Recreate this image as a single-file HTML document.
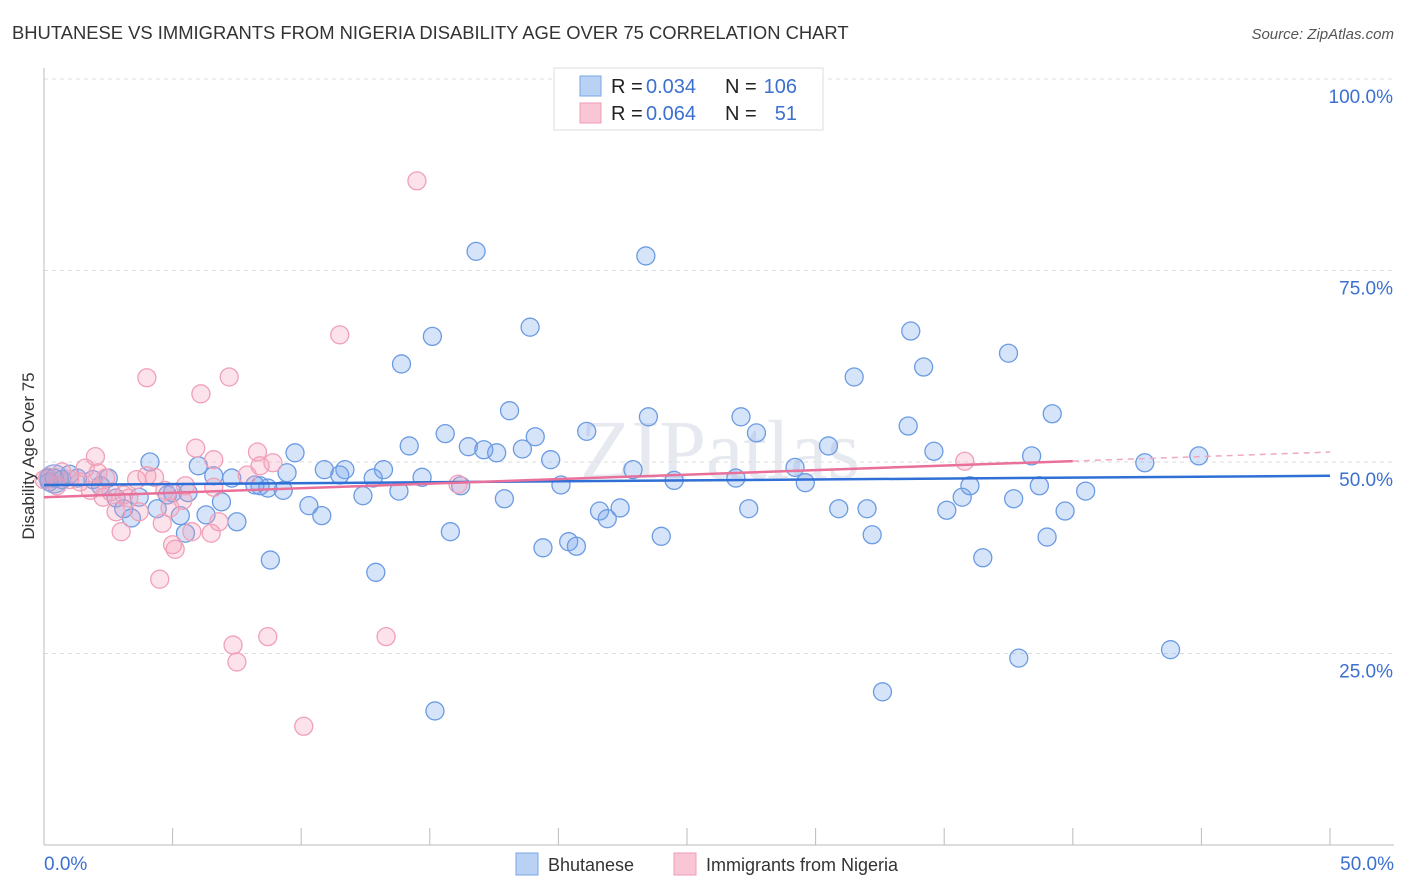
<!DOCTYPE html>
<html><head><meta charset="utf-8"><style>
body{margin:0;background:#fff;font-family:"Liberation Sans",sans-serif;}
svg{display:block}
</style></head><body>
<svg id="chart" width="1406" height="892">
<text x="12" y="39" font-size="18.4" fill="#333">BHUTANESE VS IMMIGRANTS FROM NIGERIA DISABILITY AGE OVER 75 CORRELATION CHART</text>
<text x="1394" y="39" font-size="15" fill="#555" font-style="italic" text-anchor="end">Source: ZipAtlas.com</text>
<text x="720" y="478" font-size="84" fill="#e6e9ef" text-anchor="middle" font-family="Liberation Serif,serif">ZIPatlas</text>
<g id="grid"></g>
<g id="axes"></g>
<g id="pts"></g>
<g id="trend"></g>
<text transform="translate(34,456) rotate(-90)" font-size="17" fill="#333" text-anchor="middle">Disability Age Over 75</text>
<g>
<rect x="554" y="68" width="269" height="62" fill="#fff" stroke="#ddd"/>
<rect x="580" y="76" width="21" height="20" fill="#b9d2f4" stroke="#7aa5e6"/>
<rect x="580" y="103" width="21" height="20" fill="#f9c6d5" stroke="#f09ab5"/>
<text x="611" y="93" font-size="20" fill="#222">R =</text>
<text x="646" y="93" font-size="20" fill="#3b70d0">0.034</text>
<text x="725" y="93" font-size="20" fill="#222">N =</text>
<text x="797" y="93" font-size="20" fill="#3b70d0" text-anchor="end">106</text>
<text x="611" y="120" font-size="20" fill="#222">R =</text>
<text x="646" y="120" font-size="20" fill="#3b70d0">0.064</text>
<text x="725" y="120" font-size="20" fill="#222">N =</text>
<text x="797" y="120" font-size="20" fill="#3b70d0" text-anchor="end">51</text>
</g>
<g>
<rect x="516" y="853" width="22" height="22" fill="#b9d2f4" stroke="#7aa5e6"/>
<text x="548" y="871" font-size="18" fill="#333">Bhutanese</text>
<rect x="674" y="853" width="22" height="22" fill="#f9c6d5" stroke="#f09ab5"/>
<text x="706" y="871" font-size="18" fill="#333">Immigrants from Nigeria</text>
</g>
</svg>
<script>
const blueX=[4.12,6.0,6.6,7.3,8.2,9.45,9.76,10.9,11.7,13.2,12.4,13.8,14.7,14.2,15.6,16.5,17.1,17.6,18.1,18.6,19.1,19.7,18.9,16.8,15.1,13.9,23.4,23.5,21.1,22.9,24.5,20.1,17.9,16.2,15.8,12.9,15.2,19.4,20.4,20.7,21.6,21.9,22.4,24.0,27.1,27.7,26.9,27.4,29.2,29.6,30.5,30.9,31.5,32.0,32.2,32.6,33.6,33.7,34.2,34.6,35.1,35.7,36.0,36.5,37.5,37.7,37.9,38.4,38.7,39.0,39.2,39.7,40.5,42.8,43.8,44.9,8.8,7.5,6.3,6.9,5.3,4.8,4.4,3.7,2.8,3.4,2.5,1.9,1.3,0.7,0.2,0.4,1.0,2.2,3.1,5.0,5.5,9.3,10.3,10.8,8.4,11.5,12.8,8.7,0.15,5.6];
const blueY=[50.0,49.5,48.2,47.9,47.0,48.6,51.2,49.0,49.0,49.0,45.6,46.2,48.0,52.1,53.7,52.0,51.6,51.2,56.7,51.7,53.3,50.3,67.6,77.5,66.4,62.8,76.9,55.9,54.0,49.0,47.6,47.0,45.2,46.9,40.9,35.6,17.5,38.8,39.6,39.0,43.6,42.6,44.0,40.3,55.9,53.8,47.9,43.9,49.3,47.3,52.1,43.9,61.1,43.9,40.5,20.0,54.7,67.1,62.4,51.4,43.7,45.4,46.9,37.5,64.2,45.2,24.4,50.8,46.9,40.2,56.3,43.6,46.2,49.9,25.5,50.8,37.2,42.2,43.1,44.8,43.0,45.7,43.9,45.4,45.3,42.7,47.9,47.7,47.9,47.7,47.4,47.9,48.4,46.9,43.9,46.0,40.7,46.3,44.3,43.0,46.9,48.3,47.9,46.6,47.9,46.0];
const pinkX=[14.5,11.5,4.0,7.2,6.1,5.9,6.6,8.3,8.9,8.4,7.9,6.6,5.5,4.3,3.6,4.0,2.0,1.6,2.1,2.4,3.3,2.3,2.8,3.0,3.7,4.6,4.9,5.4,5.0,5.1,5.75,6.5,6.8,4.5,7.35,7.5,8.7,13.3,10.1,16.1,35.8,1.0,0.5,0.7,0.15,1.4,1.8,2.6,0.0,4.7,3.1];
const pinkY=[86.7,66.6,61.0,61.1,58.9,51.8,50.3,51.3,49.9,49.5,48.3,46.7,46.9,48.0,47.7,48.2,50.7,49.2,48.6,47.9,45.3,45.4,43.5,40.9,43.5,42.0,44.0,45.0,39.2,38.6,40.9,40.7,42.2,34.7,26.1,23.9,27.2,27.2,15.5,47.1,50.1,47.7,46.9,48.7,48.0,47.4,46.3,46.1,47.7,46.3,45.7];
const yTicks=[25,50,75,100];
const xTickVals=[0,5,10,15,20,25,30,35,40,45,50];
const blueTrend=[47.0,48.2];
const pinkTrend=[45.4,51.3];
const pinkSolidEnd=40;
const NS="http://www.w3.org/2000/svg";
const sx=v=>44+v*25.72, sy=v=>845-v*7.66;
function mk(tag,attrs,parent){const e=document.createElementNS(NS,tag);for(const k in attrs)e.setAttribute(k,attrs[k]);parent.appendChild(e);return e;}
const grid=document.getElementById('grid'),axes=document.getElementById('axes'),pts=document.getElementById('pts'),tr=document.getElementById('trend');
yTicks.forEach(t=>{
 const l=mk('line',{x1:44,x2:1394,y1:sy(t),y2:sy(t),stroke:'#ddd','stroke-dasharray':'4,4'},grid);
 
 
 const tx=mk('text',{x:1393,y:sy(t)+24,'font-size':19,fill:'#3b70d0','text-anchor':'end'},grid);
 tx.textContent=t.toFixed(1)+'%';
 
 
});
const ya=mk('line',{x1:44,x2:44,y1:68,y2:845,stroke:'#bbb'},axes);


const xa=mk('line',{x1:44,x2:1394,y1:845,y2:845,stroke:'#bbb'},axes);


xTickVals.forEach(t=>{
 if(t===0)return;
 const l=mk('line',{x1:sx(t),x2:sx(t),y1:828,y2:845,stroke:'#bbb'},axes);
 
 
});
[[0,'start'],[50,'end']].forEach(([t,a])=>{
 const tx=mk('text',{x:t===0?44:1394,y:870,'font-size':19,fill:'#3b70d0','text-anchor':a},axes);
 tx.textContent=t.toFixed(1)+'%';
 
 
});
blueX.forEach((x,i)=>{
 const c=mk('circle',{cx:sx(x),cy:sy(blueY[i]),r:9,fill:'rgba(120,165,235,0.3)',stroke:'#6b9be3','stroke-width':1.3},pts);
 
 
});
pinkX.forEach((x,i)=>{
 const c=mk('circle',{cx:sx(x),cy:sy(pinkY[i]),r:9,fill:'rgba(245,160,185,0.3)',stroke:'#f0a0b8','stroke-width':1.3},pts);
 
 
});
const big=mk('circle',{cx:sx(0.4),cy:sy(47.8),r:14,fill:'rgba(150,150,210,0.3)',stroke:'#8fa5e0','stroke-width':1.3},pts);


const bl=mk('line',{x1:sx(0),x2:sx(50),y1:sy(blueTrend[0]),y2:sy(blueTrend[1]),stroke:'#2f6fd6','stroke-width':2.5},tr);


const pAt=x=>pinkTrend[0]+(pinkTrend[1]-pinkTrend[0])*x/50;
const pl=mk('line',{x1:sx(0),x2:sx(pinkSolidEnd),y1:sy(pAt(0)),y2:sy(pAt(pinkSolidEnd)),stroke:'#e8709a','stroke-width':2.5},tr);


const pd=mk('line',{x1:sx(pinkSolidEnd),x2:sx(50),y1:sy(pAt(pinkSolidEnd)),y2:sy(pAt(50)),stroke:'#f0a8c0','stroke-width':1.5,'stroke-dasharray':'6,5'},tr);


</script>
</body></html>
